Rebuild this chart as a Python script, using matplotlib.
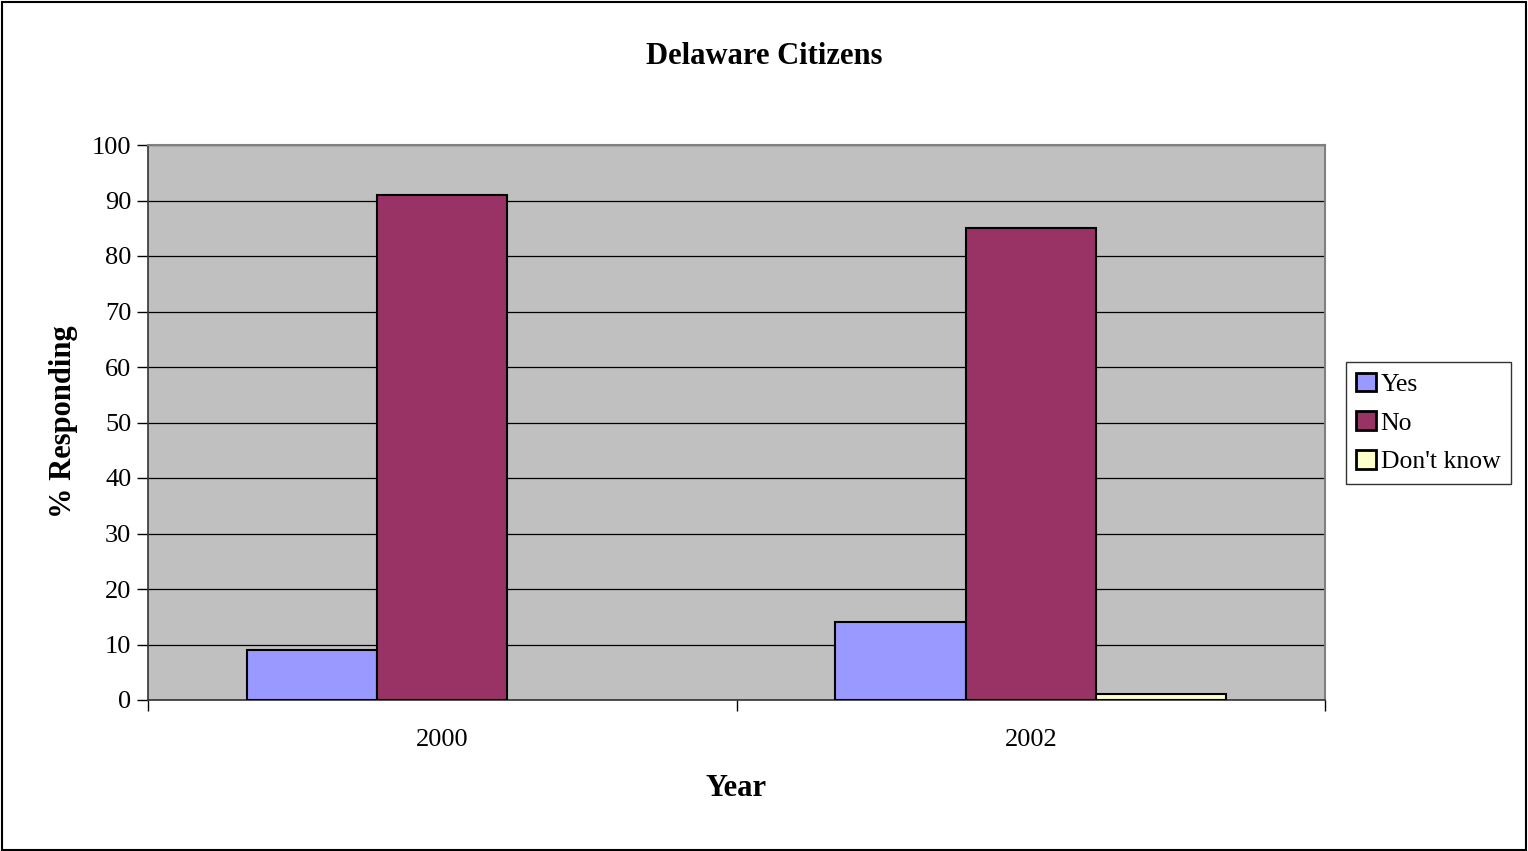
import matplotlib.pyplot as plt
import numpy as np
from matplotlib.patches import Rectangle

plt.rcParams["font.family"] = ["Liberation Serif", "DejaVu Serif"]

# Data
years = ["2000", "2002"]
yes = [9, 14]
no = [91, 85]
dont_know = [0, 1]
series = [("Yes", yes, "#9999FF"), ("No", no, "#993366"), ("Don't know", dont_know, "#FFFFCC")]

fig = plt.figure(figsize=(15.28, 8.51), dpi=100)
fig.patches.append(Rectangle((0.001, 0.001), 0.998, 0.997, transform=fig.transFigure,
                             fill=False, edgecolor="black", linewidth=1.5))
ax = fig.add_axes([148 / 1528, 1 - 700 / 851, (1325 - 148) / 1528, (700 - 145) / 851])
ax.set_facecolor("#C0C0C0")

x = np.arange(len(years)) + 0.5
w = 0.2215
all_bars = []
for i, (name, vals, col) in enumerate(series):
    bars = ax.bar(x + (i - 1) * w, vals, w, color=col, edgecolor="black", linewidth=1.5,
                  label=name, zorder=3)
    all_bars.extend(bars)

ax.set_xlim(0, 2)
ax.set_ylim(0, 100)
ax.set_yticks(range(0, 101, 10))
ax.set_xticks([0, 1, 2])
ax.set_xticklabels([])
ax.set_xticks(x, minor=True)
ax.set_xticklabels(years, minor=True)
ax.tick_params(axis="x", which="minor", length=0, pad=21, labelsize=19)
ax.tick_params(axis="x", which="major", length=8, width=1, direction="out")
ax.tick_params(axis="y", length=8, width=1, direction="out", labelsize=19, pad=4)
ax.yaxis.grid(True, color="black", linewidth=0.9, zorder=1)
ax.set_axisbelow(True)

for s in ["top", "right"]:
    ax.spines[s].set_color("#808080")
    ax.spines[s].set_linewidth(1.5)
for s in ["left", "bottom"]:
    ax.spines[s].set_color("#333333")
    ax.spines[s].set_linewidth(1.2)

fig.text(764 / 1528, 1 - 57 / 851, "Delaware Citizens", ha="center", va="center",
         fontsize=22, fontweight="bold")
fig.text(63 / 1528, 1 - 422 / 851, "% Responding", ha="center", va="center",
         rotation=90, fontsize=22, fontweight="bold")
fig.text(736 / 1528, 1 - 789 / 851, "Year", ha="center", va="center",
         fontsize=22, fontweight="bold")

leg = fig.legend(loc="center left", bbox_to_anchor=(1346 / 1528, 1 - 423 / 851),
                 fontsize=18.5, frameon=True, fancybox=False, handlelength=0.75,
                 handleheight=0.75, handletextpad=0.2, borderpad=0.4,
                 labelspacing=0.6, borderaxespad=0)
leg.get_frame().set_edgecolor("black")
leg.get_frame().set_linewidth(1)
for h in leg.legend_handles:
    h.set_linewidth(2)

# empty bars leave no outline (after legend so its handle keeps the style)
for b in all_bars:
    if b.get_height() == 0:
        b.set_visible(False)

fig.savefig("out.png", dpi=100)
